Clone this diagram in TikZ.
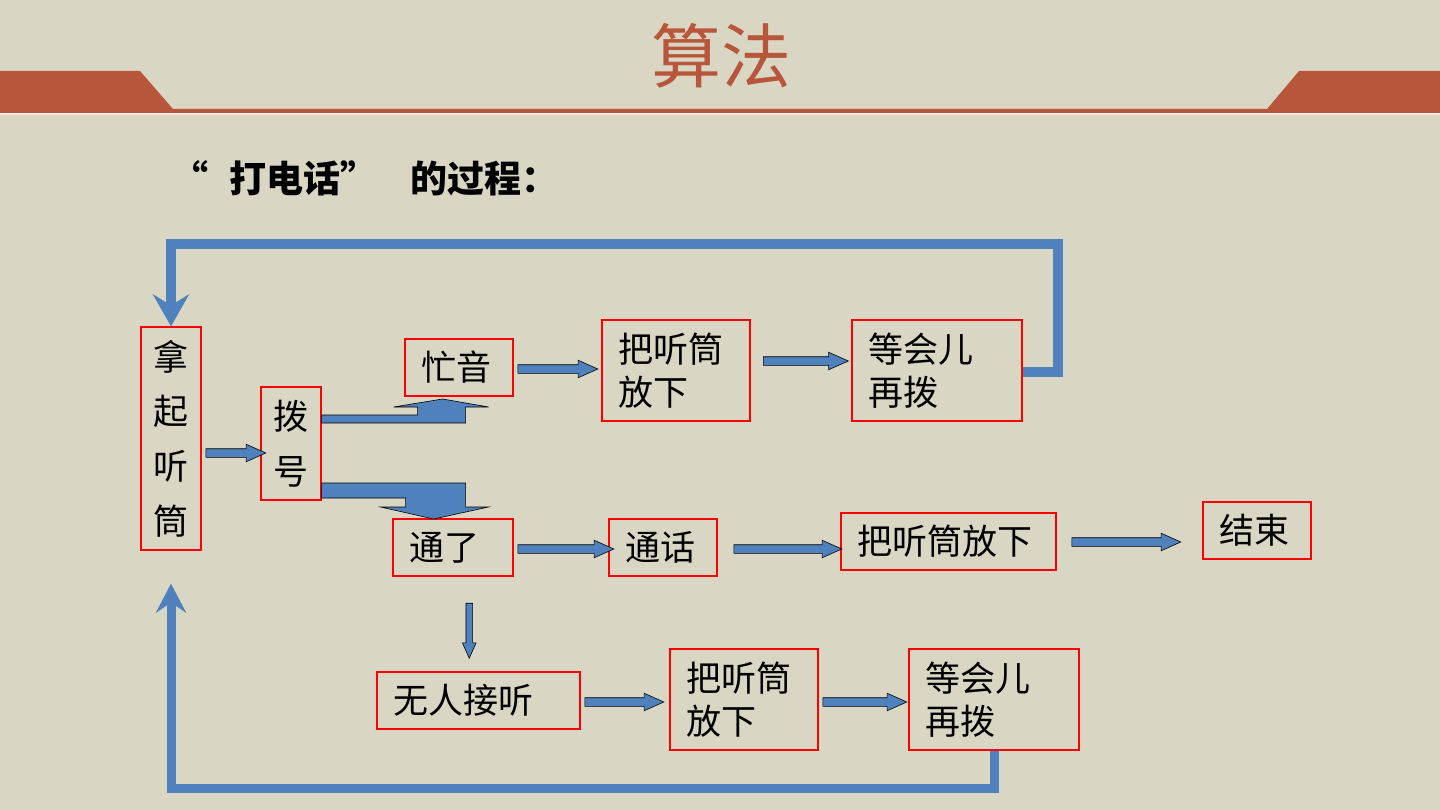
\documentclass[tikz,border=0pt]{standalone}
\usepackage{fontspec}
\usepackage{tikz}
\usetikzlibrary{arrows.meta}
\usetikzlibrary{calc}
\usetikzlibrary{shapes.arrows}
\newfontfamily\cjk{Noto Sans CJK SC}
\tikzset{box/.style 2 args = {draw=red, line width=1.2pt, inner xsep=16pt, inner ysep=0pt,
                              align=left, text width=#1, minimum height=#2,
                              font=\cjk\fontsize{35pt}{43pt}\selectfont}}
\tikzset{vbox/.style 2 args = {draw=red, line width=1.2pt, inner sep=0pt, align=center,
                               minimum width=#1, minimum height=#2,
                               font=\cjk\fontsize{35pt}{54.7pt}\selectfont}}
\tikzset{flow/.style = {single arrow, draw=black, fill=mblue, line width=0.6pt,
                        inner xsep=0pt, inner ysep=4pt, single arrow head extend=4.5pt,
                        single arrow tip angle=48, minimum height=#1}}
\tikzset{bent/.style = {fill=mblue, draw=black, line width=0.6pt}}
\tikzset{backline/.style = {draw=mblue, line width=#1}}
\definecolor{mblue}{RGB}{79,129,189}
\definecolor{mrust}{RGB}{183,86,58}
\definecolor{mpaper}{RGB}{218,214,196}
\begin{document}
\begin{tikzpicture}[x=1pt, y=-1pt]
      \useasboundingbox (0,0) rectangle (1440,810);
      \fill[mpaper] (0,0) rectangle (1440,810);

      % title band
      \fill[mrust] (0,71) -- (140,71) -- (173,109) -- (1267,109) -- (1299,71)
                   -- (1440,71) -- (1440,113) -- (0,113) -- cycle;
      \draw[white!55!mpaper, line width=2pt] (0,114) -- (1440,114);
      \node[font=\cjk\fontsize{70pt}{70pt}\selectfont, text=mrust] (title) at (721,56) {算法};
      \node[anchor=west, inner sep=0pt, font=\cjk\bfseries\fontsize{37pt}{37pt}\selectfont]
            (heading) at (171,178) {“\hspace{21pt}打电话”\hspace{33pt}的过程：};

      \node[vbox={60pt}{223pt}] (nana) at (171,438.5) {拿\\起\\听\\筒};
      \node[vbox={60pt}{113pt}] (bohao) at (291,443.5) {拨\\号};

      \node[box={76pt}{57pt}] (mang) at (459,367.5) {忙音};
      \node[box={116pt}{101pt}] (fang1) at (676,370.5) {把听筒\\放下};
      \node[box={138pt}{101pt}] (deng1) at (937,370.5) {等会儿\\再拨};

      \node[box={88pt}{57pt}] (tong) at (453,547.5) {通了};
      \node[box={76pt}{57pt}] (hua) at (663,547.5) {通话};
      \node[box={183pt}{57pt}] (fang2) at (948.5,541.5) {把听筒放下};
      \node[box={76pt}{57pt}] (jie) at (1257,530.5) {结束};

      \node[box={171pt}{57pt}] (wu) at (478.5,700.5) {无人接听};
      \node[box={116pt}{101pt}] (fang3) at (744,699.5) {把听筒\\放下};
      \node[box={138pt}{101pt}] (deng2) at (994,699.5) {等会儿\\再拨};

      % small arrows
      \node[flow=60pt, yshift=-12pt] at ($(nana.east)!.5!(bohao.west)$) {};
      \node[flow=80pt] at ($(mang.east)!.5!([xshift=-9pt]fang1.west)$) {};
      \node[flow=85pt, yshift=9.5pt] at ($(fang1.east)!.5!(deng1.west)$) {};
      \node[flow=96pt, yshift=-1.5pt] at ($(tong.east)!.5!(hua.west)$) {};
      \node[flow=108pt, xshift=4pt, yshift=-4.5pt] at ($(hua.east)!.5!(fang2.west)$) {};
      \node[flow=109pt, xshift=-8pt, yshift=-6pt] at ($(fang2.east)!.5!(jie.west)$) {};
      \node[flow=55pt, rotate=-90, inner ysep=3pt, single arrow head extend=3.5pt,
            xshift=3pt, yshift=3.5pt] at ($(tong.south)!.5!(wu.north)$) {};
      \node[flow=79pt, xshift=-5.5pt, yshift=-2pt] at ($(wu.east)!.5!(fang3.west)$) {};
      \node[flow=84pt, xshift=-3.5pt, yshift=-2.5pt] at ($(fang3.east)!.5!(deng2.west)$) {};

      % bent arrows out of bohao
      \filldraw[bent] ([yshift=20.5pt]bohao.east) -- ++(144,0) -- ++(0,-16) -- ++(23,0)
                      -- ++(-46,-8) -- ++(-49,8) -- ++(24,0) -- ++(0,8) -- ++(-96,0) -- cycle;
      \filldraw[bent] ([yshift=-39.5pt]bohao.east) -- ++(144,0) -- ++(0,24) -- ++(23,0)
                      -- ++(-55,12) -- ++(-53,-12) -- ++(25,0) -- ++(0,-9) -- ++(-84,0) -- cycle;

      % loops back to nana
      \coordinate (ne) at (1058,244.5);
      \coordinate (sw) at (171,788);
      \draw[backline=10pt, -{Stealth[length=32pt, width=36pt, inset=11pt]}]
            ([yshift=-1pt]deng1.east) -| (ne) -| (nana.north);
      \draw[backline=9pt, -{Stealth[length=29pt, width=30pt, inset=10pt]}]
            (deng2.south) |- (sw) -- ([yshift=-33pt]nana.south);
\end{tikzpicture}
\end{document}
